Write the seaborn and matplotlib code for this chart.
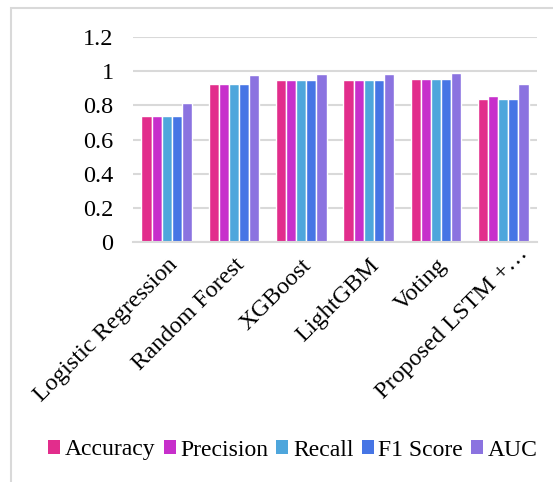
import matplotlib
matplotlib.use("Agg")
import matplotlib.pyplot as plt
import matplotlib.transforms as mtransforms
import seaborn as sns
import pandas as pd
from matplotlib.patches import Patch, Rectangle
from matplotlib.ticker import FuncFormatter

models = ["Logistic Regression", "Random Forest", "XGBoost", "LightGBM",
          "Voting", "Proposed LSTM +\u2026"]
metrics = ["Accuracy", "Precision", "Recall", "F1 Score", "AUC"]

accuracy = [0.735, 0.927, 0.947, 0.947, 0.957, 0.839]
precision = [0.737, 0.927, 0.949, 0.951, 0.957, 0.853]
recall = [0.735, 0.927, 0.947, 0.947, 0.957, 0.839]
f1_score = [0.735, 0.927, 0.947, 0.947, 0.957, 0.839]
auc = [0.814, 0.980, 0.986, 0.984, 0.988, 0.925]

colors = ["#E22D8C", "#C72FCB", "#4EA6DC", "#4675E5", "#8B73E0"]

series = [accuracy, precision, recall, f1_score, auc]
df = pd.DataFrame(
    [(m, metric, v) for metric, vals in zip(metrics, series) for m, v in zip(models, vals)],
    columns=["Model", "Metric", "Score"],
)

sns.set_theme(style="white")
plt.rcParams["font.family"] = ["Liberation Serif", "DejaVu Serif"]
plt.rcParams["text.color"] = "black"

fig = plt.figure(figsize=(5.53, 4.82), dpi=100)
ax = fig.add_axes([133 / 553, 1 - 242 / 482, (537 - 133) / 553, (242 - 37) / 482])

sns.barplot(data=df, x="Model", y="Score", hue="Metric", order=models,
            hue_order=metrics, palette=colors, saturation=1, width=0.75, ax=ax,
            edgecolor="white", linewidth=1.0, legend=False)

ax.set_ylim(0, 1.2)
ax.set_yticks([0, 0.2, 0.4, 0.6, 0.8, 1.0, 1.2])
ax.yaxis.set_major_formatter(FuncFormatter(lambda v, _: f"{v:g}"))
ax.grid(axis="y", color="#D9D9D9", linewidth=1.5)
ax.set_axisbelow(True)
for side in ["top", "right", "left"]:
    ax.spines[side].set_visible(False)
ax.spines["bottom"].set_color("#D9D9D9")
ax.spines["bottom"].set_linewidth(1.5)
ax.set_xlabel("")
ax.set_ylabel("")
ax.tick_params(axis="y", length=0, pad=14, labelsize=17.5, labelcolor="black")
ax.tick_params(axis="x", length=0, pad=9, labelsize=17.5, labelcolor="black")
labels = ax.get_xticklabels()
for lbl in labels:
    lbl.set_rotation(45)
    lbl.set_ha("right")
    lbl.set_rotation_mode("anchor")
# the truncated last label sits a little further up and right
shift = mtransforms.ScaledTranslation(10 / 72, 8 / 72, fig.dpi_scale_trans)
labels[-1].set_transform(labels[-1].get_transform() + shift)

handles = [Patch(facecolor=c, edgecolor="none", label=m) for c, m in zip(colors, metrics)]
fig.legend(handles=handles, loc="center", bbox_to_anchor=(293 / 553, 1 - 450 / 482),
           ncol=5, frameon=False, fontsize=17, handlelength=0.5, handleheight=0.5,
           handletextpad=0.2, columnspacing=0.35, borderaxespad=0, borderpad=0)

# light outer frame
fig.patches.append(Rectangle((11 / 553, -0.1), 1.2, 1.1 - 8 / 482,
                             transform=fig.transFigure, fill=False,
                             edgecolor="#D9D9D9", linewidth=1.5))

fig.savefig("out.png", dpi=100)
